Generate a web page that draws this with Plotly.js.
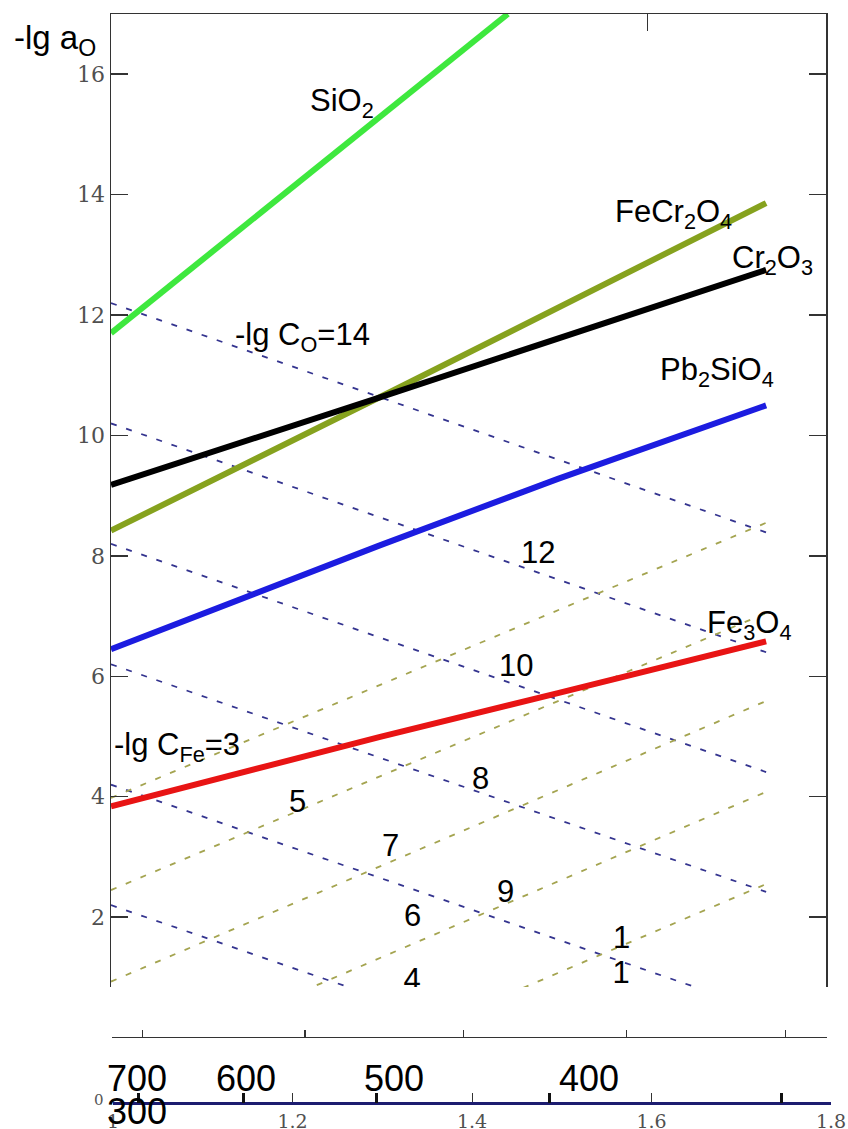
<!DOCTYPE html>
<html><head><meta charset="utf-8">
<script src="https://cdn.plot.ly/plotly-3.0.1.min.js"></script>
<style>html,body{margin:0;padding:0;background:#fff}</style>
</head><body><div id="chart" style="width:848px;height:1129px"></div>
<script>
// ---- data (x = 1000/T, y = -lg a_O) ----
const sio2X = [1.0, 1.2, 1.444];
const sio2Y = [11.70, 14.10, 17.0];
const fecr2o4X = [1.0, 1.3, 1.733];
const fecr2o4Y = [8.42, 10.63, 13.86];
const cr2o3X = [1.0, 1.3, 1.733];
const cr2o3Y = [9.18, 10.63, 12.75];
const pb2sio4X = [1.0, 1.15, 1.3, 1.5, 1.733];
const pb2sio4Y = [6.45, 7.32, 8.17, 9.28, 10.50];
const fe3o4X = [1.0, 1.3, 1.5, 1.733];
const fe3o4Y = [3.84, 4.99, 5.72, 6.58];
// iso-concentration dashed lines (start at x=1.0, end at x=1.733)
const isoX = [1.0, 1.733];
const coStart = [12.2, 10.2, 8.2, 6.2, 4.2, 2.2];
const coEnd   = [8.39, 6.40, 4.41, 2.42, 0.43, -1.56];
const cfeStart = [3.98, 2.45, 0.93, -0.60, -2.10];
const cfeEnd   = [8.55, 7.05, 5.59, 4.08, 2.55];
// ticks
const yTicks = [2, 4, 6, 8, 10, 12, 14, 16];
const xTicks = [1.0, 1.2, 1.4, 1.6, 1.8];
const xTickText = ['1', '1.2', '1.4', '1.6', '1.8'];
const tempLabels = ['700', '600', '500', '400', '300'];
const tempTickX = [1.028, 1.145, 1.294, 1.486, 1.745];
const midTickX = [1.034, 1.216, 1.393, 1.576, 1.754, 1.8];
const topTickX = [1.6];

// ---- layout geometry ----
const L = 111, T = 14, W = 720, H = 1095;
const px = p => (p - L) / W;
const py = p => (T + H - p) / H;
const Y0 = 0.84, Y1 = 17.0, MAINBOT = 987;
const dataX = p => 1 + (p - 111) * 0.8 / 715;
const dataY = p => Y1 - (p - T) * (Y1 - Y0) / (MAINBOT - T);

const SANS = 'Liberation Sans, Arial, sans-serif';
const SERIF = 'DejaVu Serif, serif';

const traces = [];
coStart.forEach((s, i) => traces.push({
  x: isoX, y: [s, coEnd[i]], mode: 'lines', showlegend: false, hoverinfo: 'skip',
  line: {color: '#34348f', width: 1.8, dash: '6px,10px'}
}));
cfeStart.forEach((s, i) => traces.push({
  x: isoX, y: [s, cfeEnd[i]], mode: 'lines', showlegend: false, hoverinfo: 'skip',
  line: {color: '#a4a450', width: 1.8, dash: '6px,10px'}
}));
const curve = (x, y, c) => ({x, y, mode: 'lines', showlegend: false, hoverinfo: 'skip',
  line: {color: c, width: 6}});
traces.push(curve(sio2X, sio2Y, '#3ee83e'));
traces.push(curve(fecr2o4X, fecr2o4Y, '#86a21e'));
traces.push(curve(cr2o3X, cr2o3Y, '#000000'));
traces.push(curve(pb2sio4X, pb2sio4Y, '#1c1ce0'));
traces.push(curve(fe3o4X, fe3o4Y, '#e81414'));

// clipped labels at the bottom of the plot
traces.push({x: [dataX(621), dataX(412)], y: [dataY(975), dataY(982)], mode: 'text',
  text: ['1', '4'], textposition: 'middle center', cliponaxis: true,
  textfont: {family: SANS, size: 31, color: '#000'}, showlegend: false, hoverinfo: 'skip'});

// dummy traces so the extra axes are drawn
['x2', 'x3', 'x4'].forEach(a => traces.push({x: [null], y: [null], xaxis: a, yaxis: 'y',
  mode: 'lines', showlegend: false, hoverinfo: 'skip'}));

const ann = [];
const lab = (text, x, y, xanchor, size, fam, color) => ann.push({
  text, x: px(x), y: py(y), xref: 'paper', yref: 'paper', xanchor: xanchor || 'left',
  yanchor: 'middle', showarrow: false,
  font: {family: fam || SANS, size: size || 31, color: color || '#000'}
});
lab('-lg a<sub>O</sub>', 12, 40, 'left', 33);
lab('SiO<sub>2</sub>', 308, 103);
lab('FeCr<sub>2</sub>O<sub>4</sub>', 613, 214);
lab('Cr<sub>2</sub>O<sub>3</sub>', 730, 260);
lab('-lg C<sub>O</sub>=14', 233, 337);
lab('Pb<sub>2</sub>SiO<sub>4</sub>', 658, 372);
lab('12', 538, 552, 'center');
lab('Fe<sub>3</sub>O<sub>4</sub>', 705, 625);
lab('10', 516, 666, 'center');
lab('-lg C<sub>Fe</sub>=3', 112, 747);
lab('5', 297, 801, 'center');
lab('8', 481, 778, 'center');
lab('7', 390, 845, 'center');
lab('9', 505, 891, 'center');
lab('6', 412, 915, 'center');
lab('1', 621, 937, 'center');
// temperature labels
const tPos = [[137, 1078], [246, 1078], [394, 1078], [589, 1078], [137, 1111]];
tempLabels.forEach((t, i) => lab(t, tPos[i][0], tPos[i][1], 'center', 36, SANS));
lab('0', 99, 1100, 'center', 15, SERIF, '#555');

const baseAx = {showgrid: false, zeroline: false, fixedrange: true};
const layout = {
  width: 848, height: 1129,
  margin: {l: L, r: 848 - L - W, t: T, b: 1129 - T - H, pad: 0},
  paper_bgcolor: '#fff', plot_bgcolor: 'rgba(0,0,0,0)',
  font: {family: SERIF, size: 17, color: '#555'},
  showlegend: false,
  xaxis: Object.assign({}, baseAx, {domain: [0, 715 / W], range: [1, 1.8], side: 'top',
    showline: true, linecolor: '#333', linewidth: 1.5, ticks: 'inside', ticklen: 17,
    tickwidth: 1.5, tickcolor: '#333', tickvals: topTickX, showticklabels: false}),
  yaxis: Object.assign({}, baseAx, {domain: [(T + H - MAINBOT) / H, 1], range: [Y0, Y1],
    showline: true, mirror: 'ticks', linecolor: '#333', linewidth: 1.5, ticks: 'inside',
    ticklen: 17, tickwidth: 1.5, tickcolor: '#333', tickvals: yTicks,
    tickfont: {family: SERIF, size: 22, color: '#505050'}}),
  xaxis2: Object.assign({}, baseAx, {domain: [1 / W, 716 / W], anchor: 'free',
    position: (T + H - 1037) / H, range: [1, 1.8], showline: true, linecolor: '#333',
    linewidth: 1.2, ticks: 'inside', ticklen: 7, tickwidth: 1.2, tickcolor: '#333',
    tickvals: midTickX, showticklabels: false}),
  xaxis3: Object.assign({}, baseAx, {domain: [2 / W, 1], anchor: 'free',
    position: (T + H - 1103) / H, range: [1, 1.8], showline: true, linecolor: '#1c1c70',
    linewidth: 3, ticks: 'inside', ticklen: 9, tickwidth: 1, tickcolor: '#333',
    tickvals: xTicks, ticktext: xTickText,
    tickfont: {family: SERIF, size: 19, color: '#505050'}}),
  xaxis4: Object.assign({}, baseAx, {overlaying: 'x3', anchor: 'free',
    position: (T + H - 1103) / H, range: [1, 1.8], showline: false, ticks: 'inside',
    ticklen: 10, tickwidth: 3, tickcolor: '#111', tickvals: tempTickX, showticklabels: false}),
  annotations: ann
};
Plotly.newPlot('chart', traces, layout, {staticPlot: true, displayModeBar: false});
</script></body></html>
